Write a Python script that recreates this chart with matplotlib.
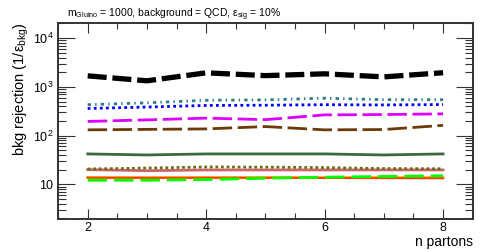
import matplotlib
matplotlib.use("Agg")
import matplotlib.pyplot as plt
import numpy as np
from matplotlib.ticker import LogLocator, MultipleLocator, NullFormatter

plt.rcParams['font.family'] = ['Liberation Sans', 'DejaVu Sans']
plt.rcParams['mathtext.fontset'] = 'custom'
plt.rcParams['mathtext.rm'] = 'Liberation Sans'
plt.rcParams['mathtext.it'] = 'Liberation Sans'

n_partons = [2, 3, 4, 5, 6, 7, 8]

black = [1680, 1330, 1940, 1700, 1850, 1600, 1950]
teal = [430, 470, 530, 540, 585, 545, 545]
blue = [360, 385, 415, 420, 430, 425, 433]
magenta = [195, 210, 228, 212, 266, 270, 279]
brown = [131, 134, 137, 153, 131, 133, 162]
dkgreen = [42, 40, 42, 42, 42, 40, 42]
salmon = [20, 19, 19.7, 19.7, 19.7, 19.7, 19.7]
olive = [20.6, 21.5, 22.7, 22.5, 22, 21, 20.8]
gold = [13.7, 13.7, 13.8, 13.8, 13.8, 13.8, 13.8]
red = [13.7, 13.6, 13.6, 13.6, 13.5, 13.4, 13.3]
lime = [12.1, 12.1, 12.5, 13.3, 14.0, 14.5, 15.0]

fig = plt.figure(figsize=(4.88, 2.52), dpi=100)
ax = fig.add_axes([0.119, 0.131, 0.8496, 0.778])

ax.plot(n_partons, black, color='black', lw=3.8, dashes=(3.6, 1.1))
ax.plot(n_partons, teal, color='#2a7f7f', lw=2, dashes=(1.2, 1.5, 0.5, 1.5))
ax.plot(n_partons, blue, color='#0000ff', lw=2, dashes=(1, 1.2))
ax.plot(n_partons, magenta, color='#dd00ff', lw=2, dashes=(7, 2))
ax.plot(n_partons, brown, color='#6b3a06', lw=2, dashes=(7, 2))
ax.plot(n_partons, dkgreen, color='#3b6b3b', lw=2)
ax.plot(n_partons, salmon, color='#cc6666', lw=2)
ax.plot(n_partons, olive, color='#6b6b1a', lw=2, dashes=(1, 1))
ax.plot(n_partons, gold, color='#ffc020', lw=2)
ax.plot(n_partons, red, color='#ff4000', lw=1.5)
ax.plot(n_partons, lime, color='#00ff00', lw=2, dashes=(7, 2.5))

ax.set_yscale('log')
ax.set_xlim(1.5, 8.5)
ax.set_ylim(1.94, 2.05e4)

ax.xaxis.set_major_locator(MultipleLocator(2))
ax.xaxis.set_minor_locator(MultipleLocator(0.5))
ax.yaxis.set_major_locator(LogLocator(base=10, numticks=10))
ax.yaxis.set_minor_locator(LogLocator(base=10, subs=np.arange(2, 10), numticks=10))
ax.yaxis.set_minor_formatter(NullFormatter())
ax.set_yticks([10, 100, 1000, 10000])
ax.set_yticklabels(['10', r'$10^2$', r'$10^3$', r'$10^4$'])

ax.tick_params(which='both', direction='in', top=True, right=True, labelsize=9,
               width=0.8, color='#333333')
ax.tick_params(axis='y', which='major', length=12)
ax.tick_params(axis='y', which='minor', length=6)
ax.tick_params(axis='x', which='major', length=7, pad=2)
ax.tick_params(axis='x', which='minor', length=4)
for s in ax.spines.values():
    s.set_linewidth(1.4)
    s.set_color('#333333')

ax.set_ylabel(r'bkg rejection (1/$\varepsilon_{\mathrm{bkg}}$)', fontsize=10.5, loc='top', labelpad=1)

fig.text(0.9686, 0.04, 'n partons', fontsize=10, ha='right', va='center')

fig.text(0.137, 0.943, r'm$_{\mathrm{Gluino}}$ = 1000, background = QCD, $\varepsilon_{\mathrm{sig}}$ = 10%',
         fontsize=7.5, va='center')

fig.savefig('out.png', dpi=100)
